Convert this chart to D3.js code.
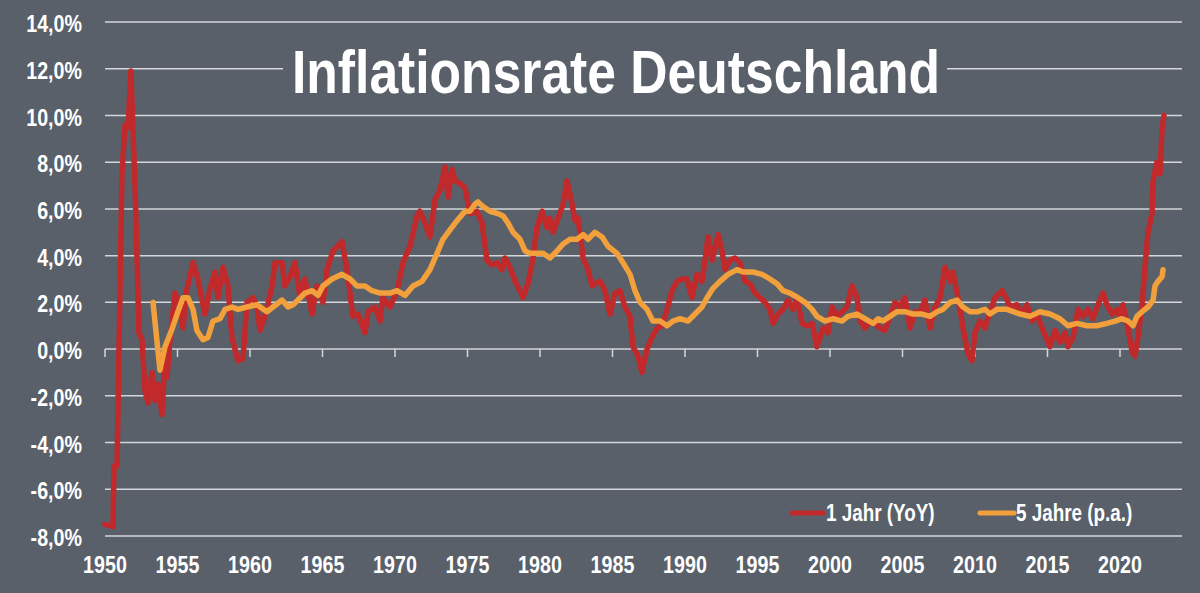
<!DOCTYPE html>
<html>
<head>
<meta charset="utf-8">
<script src="https://cdn.jsdelivr.net/npm/d3@7"></script>
<style>
  body { margin: 0; background: #59606a; }
  svg { display: block; }
  text { font-family: "Liberation Sans", Arial, sans-serif; font-weight: bold; fill: #ffffff; }
</style>
</head>
<body>
<svg id="chart" width="1200" height="593"></svg>
<script>
// ---- data ----
const titleText = "Inflationsrate Deutschland";
const seriesNames = ["1 Jahr (YoY)", "5 Jahre (p.a.)"];
const yTicks = [-8, -6, -4, -2, 0, 2, 4, 6, 8, 10, 12, 14];
const xTicks = [1950, 1955, 1960, 1965, 1970, 1975, 1980, 1985, 1990, 1995, 2000, 2005, 2010, 2015, 2020];

// [year, % yoy]
const yoySeries = [
  [1950.00,-7.5],[1950.55,-7.6],[1950.62,-5.0],[1950.83,-5.0],[1951.17,7.5],[1951.38,9.6],[1951.59,9.5],[1951.79,11.9],
  [1951.93,9.3],[1952.07,7.0],[1952.21,3.9],[1952.34,0.7],[1952.55,0.4],[1952.76,-1.8],[1952.97,-2.3],[1953.24,-1.0],
  [1953.45,-2.2],[1953.66,-1.5],[1953.93,-2.8],[1954.14,-0.4],[1954.28,-1.2],[1954.48,0.4],[1954.83,2.4],[1955.17,1.8],
  [1955.38,0.9],[1955.59,2.4],[1956.07,3.7],[1956.41,3.0],[1956.69,2.1],[1956.90,1.5],[1957.24,2.6],[1957.59,3.3],
  [1957.79,2.2],[1958.14,3.5],[1958.48,2.7],[1958.76,0.5],[1959.17,-0.5],[1959.52,-0.4],[1959.79,2.0],[1960.21,2.2],
  [1960.48,1.8],[1960.69,0.8],[1961.03,1.4],[1961.52,2.7],[1961.72,3.7],[1962.21,3.7],[1962.41,2.7],[1962.76,3.1],
  [1963.10,3.7],[1963.45,2.2],[1963.79,3.0],[1964.28,1.5],[1964.62,2.7],[1965.03,2.0],[1965.31,3.4],[1965.72,4.2],
  [1966.34,4.6],[1966.69,3.4],[1967.10,1.4],[1967.45,1.5],[1967.93,0.7],[1968.14,1.6],[1968.62,1.8],[1968.97,1.2],
  [1969.17,2.2],[1969.66,1.8],[1970.14,2.5],[1970.55,3.7],[1971.03,4.4],[1971.52,5.7],[1971.72,5.9],[1972.07,5.4],
  [1972.41,4.8],[1972.76,6.4],[1973.10,6.8],[1973.45,7.8],[1973.66,6.5],[1973.93,7.7],[1974.14,7.2],[1974.48,7.1],
  [1974.83,6.9],[1975.17,5.8],[1975.66,5.9],[1976.00,5.4],[1976.34,3.8],[1976.69,3.6],[1977.03,3.7],[1977.38,3.4],
  [1977.59,3.9],[1977.93,3.5],[1978.28,2.9],[1978.62,2.5],[1978.83,2.2],[1979.17,2.8],[1979.52,3.9],[1979.79,5.2],
  [1980.14,5.9],[1980.48,5.2],[1980.69,5.6],[1980.90,5.0],[1981.24,5.6],[1981.59,6.2],[1981.86,7.2],[1982.21,6.2],
  [1982.41,5.5],[1982.62,5.6],[1982.97,3.9],[1983.31,3.4],[1983.59,2.7],[1983.79,2.8],[1984.14,2.9],[1984.48,2.5],
  [1984.83,1.5],[1985.17,2.4],[1985.52,2.5],[1985.86,1.8],[1986.21,1.4],[1986.41,0.1],[1986.76,-0.3],[1987.03,-1.0],
  [1987.38,0.0],[1987.72,0.5],[1988.07,0.9],[1988.41,1.0],[1988.76,1.7],[1989.10,2.5],[1989.45,2.9],[1989.79,3.0],
  [1990.14,3.0],[1990.48,2.2],[1990.83,3.2],[1991.17,2.9],[1991.38,3.8],[1991.59,4.8],[1991.86,3.8],[1992.07,4.3],
  [1992.28,4.9],[1992.55,4.2],[1992.76,3.4],[1993.10,3.8],[1993.45,3.9],[1993.79,3.7],[1994.14,2.9],[1994.48,2.8],
  [1994.83,2.4],[1995.17,2.2],[1995.52,2.0],[1995.86,1.7],[1996.07,1.1],[1996.41,1.5],[1996.76,1.7],[1997.10,2.1],
  [1997.45,1.7],[1997.72,2.2],[1998.07,1.1],[1998.41,1.0],[1998.76,1.1],[1999.10,0.1],[1999.31,0.5],[1999.52,0.9],
  [1999.86,0.7],[2000.14,1.8],[2000.48,1.4],[2000.83,1.6],[2001.17,1.8],[2001.52,2.7],[2001.86,2.2],[2002.07,1.2],
  [2002.41,0.9],[2002.76,1.2],[2003.10,1.1],[2003.45,0.9],[2003.79,0.8],[2004.14,1.4],[2004.48,2.0],[2004.83,1.8],
  [2005.17,2.2],[2005.52,0.9],[2005.86,1.6],[2006.21,1.6],[2006.55,2.1],[2006.90,0.9],[2007.24,1.8],[2007.59,2.2],
  [2007.93,3.5],[2008.28,2.9],[2008.48,3.3],[2008.83,2.2],[2009.17,0.9],[2009.52,-0.2],[2009.79,-0.5],[2010.00,0.7],
  [2010.34,1.2],[2010.69,0.9],[2011.03,1.6],[2011.38,2.2],[2011.86,2.5],[2012.21,2.1],[2012.41,1.8],[2012.90,1.9],
  [2013.24,1.5],[2013.59,1.9],[2013.93,1.2],[2014.28,1.5],[2014.62,0.9],[2014.97,0.4],[2015.17,0.1],[2015.52,0.8],
  [2015.86,0.3],[2016.21,0.7],[2016.41,0.1],[2016.76,0.5],[2017.10,1.7],[2017.45,1.4],[2017.79,1.7],[2018.14,1.3],
  [2018.48,1.9],[2018.83,2.4],[2019.10,1.9],[2019.45,1.5],[2019.79,1.7],[2020.00,1.3],[2020.21,1.9],[2020.55,0.9],
  [2020.83,-0.1],[2021.03,-0.3],[2021.24,0.5],[2021.52,1.9],[2021.72,3.5],[2021.93,5.0],[2022.21,5.8],[2022.28,7.2],
  [2022.55,8.0],[2022.76,7.5],[2022.90,9.4],[2023.03,10.0]
];

// [year, % p.a. over 5 years]
const paSeries = [
  [1953.31,2.0],[1953.79,-0.9],[1954.14,0.1],[1954.62,0.85],[1955.03,1.6],[1955.38,2.2],[1955.72,2.2],[1956.07,1.7],
  [1956.34,0.8],[1956.76,0.4],[1957.10,0.5],[1957.45,1.2],[1957.93,1.3],[1958.28,1.7],[1958.76,1.8],[1959.17,1.7],
  [1959.79,1.8],[1960.48,1.9],[1961.17,1.6],[1961.59,1.8],[1962.21,2.1],[1962.62,1.8],[1962.97,1.9],[1963.31,2.1],
  [1963.79,2.4],[1964.28,2.5],[1964.69,2.3],[1965.03,2.7],[1965.66,3.0],[1966.34,3.2],[1966.90,3.0],[1967.38,2.7],
  [1967.93,2.7],[1968.41,2.5],[1968.97,2.4],[1969.66,2.4],[1970.14,2.5],[1970.69,2.3],[1971.24,2.7],[1971.86,2.9],
  [1972.41,3.4],[1972.90,4.1],[1973.31,4.7],[1973.79,5.1],[1974.28,5.5],[1974.83,5.9],[1975.17,5.9],[1975.52,6.2],
  [1975.72,6.3],[1976.07,6.1],[1976.55,5.9],[1977.10,5.8],[1977.45,5.7],[1977.79,5.4],[1978.14,5.0],[1978.62,4.7],
  [1978.97,4.2],[1979.31,4.1],[1979.79,4.1],[1980.21,4.1],[1980.69,3.9],[1981.17,4.2],[1981.59,4.5],[1982.07,4.7],
  [1982.55,4.7],[1982.97,4.9],[1983.31,4.7],[1983.79,5.0],[1984.28,4.8],[1984.69,4.4],[1985.31,4.1],[1985.72,3.7],
  [1986.21,3.2],[1986.55,2.5],[1986.90,2.0],[1987.38,1.7],[1987.79,1.2],[1988.28,1.2],[1988.76,1.0],[1989.17,1.2],
  [1989.66,1.3],[1990.21,1.2],[1990.69,1.5],[1991.17,1.8],[1991.52,2.2],[1991.93,2.6],[1992.41,2.9],[1992.97,3.2],
  [1993.59,3.4],[1994.00,3.3],[1994.69,3.3],[1995.31,3.2],[1995.86,3.0],[1996.34,2.8],[1996.76,2.5],[1997.24,2.4],
  [1997.79,2.2],[1998.28,2.0],[1998.76,1.7],[1999.10,1.4],[1999.66,1.2],[2000.21,1.3],[2000.83,1.2],[2001.24,1.4],
  [2001.86,1.5],[2002.41,1.3],[2002.97,1.1],[2003.31,1.3],[2003.66,1.2],[2004.14,1.4],[2004.62,1.6],[2005.17,1.6],
  [2005.72,1.5],[2006.34,1.5],[2006.90,1.4],[2007.38,1.6],[2007.79,1.7],[2008.28,2.0],[2008.76,2.1],[2009.17,1.8],
  [2009.66,1.6],[2010.21,1.6],[2010.69,1.7],[2011.03,1.5],[2011.52,1.7],[2012.21,1.7],[2013.10,1.5],[2013.79,1.4],
  [2014.48,1.6],[2015.17,1.5],[2015.86,1.3],[2016.41,1.0],[2017.03,1.1],[2017.72,1.0],[2018.41,1.0],[2019.10,1.1],
  [2019.66,1.2],[2020.14,1.3],[2020.55,1.2],[2020.90,1.0],[2021.17,1.4],[2021.52,1.6],[2021.93,1.8],[2022.28,2.1],
  [2022.41,2.7],[2022.62,2.9],[2022.90,3.1],[2022.97,3.4]
];

// ---- chart ----
const svg = d3.select("#chart");
const W = 1200, H = 593;
const bg = "#59606a", grid = "#d3d6da";
const redCol = "#c1292b", orangeCol = "#f1a03b";
const narrow = 0.82; // condensed look

var x = d3.scaleLinear().domain([1950, 2020]).range([105, 1120]);
var y = d3.scaleLinear().domain([-8, 14]).range([536, 22]);
const gridRight = 1182;

// german number format, plain hyphen as minus sign
const de = d3.formatLocale({ decimal: ",", thousands: ".", grouping: [3], currency: ["", " €"], minus: "-" });
const pct = de.format(".1f");

const place = (px, py) => "translate(" + px + "," + py + ") scale(" + narrow + ",1)";

svg.append("rect").attr("width", W).attr("height", H).attr("fill", bg);

// horizontal gridlines
svg.append("g").selectAll("line").data(yTicks).enter().append("line")
  .attr("x1", x(1950)).attr("x2", gridRight)
  .attr("y1", d => y(d)).attr("y2", d => y(d))
  .attr("stroke", grid).attr("stroke-width", 1.5);

// tick marks on zero line
svg.append("g").selectAll("line").data(xTicks).enter().append("line")
  .attr("x1", d => x(d)).attr("x2", d => x(d))
  .attr("y1", y(0)).attr("y2", y(0) + 8)
  .attr("stroke", grid).attr("stroke-width", 1.5);

// y labels
svg.append("g").selectAll("text").data(yTicks).enter().append("text")
  .attr("transform", d => place(82, y(d)))
  .attr("dy", "0.42em")
  .attr("text-anchor", "end").attr("font-size", 24)
  .text(d => pct(d) + "%");

// x labels
svg.append("g").selectAll("text").data(xTicks).enter().append("text")
  .attr("transform", d => place(x(d), 573))
  .attr("text-anchor", "middle").attr("font-size", 24)
  .text(d => d);

// lines
var line = d3.line()
  .x(function (d) { return x(d[0]); })
  .y(function (d) { return y(d[1]); });

svg.append("path").datum(yoySeries)
  .attr("d", line).attr("fill", "none")
  .attr("stroke", redCol).attr("stroke-width", 5.5)
  .attr("stroke-linejoin", "round").attr("stroke-linecap", "round");

svg.append("path").datum(paSeries)
  .attr("d", line).attr("fill", "none")
  .attr("stroke", orangeCol).attr("stroke-width", 5.5)
  .attr("stroke-linejoin", "round").attr("stroke-linecap", "round");

// title with background box
svg.append("rect").attr("x", 283).attr("y", 44).attr("width", 664).attr("height", 62).attr("fill", bg);
svg.append("text").attr("x", 292).attr("y", 93)
  .attr("font-size", 62)
  .attr("textLength", 648).attr("lengthAdjust", "spacingAndGlyphs")
  .text(titleText);

// legend
const legend = [
  { name: seriesNames[0], col: redCol, x0: 792, x1: 823, tx: 826 },
  { name: seriesNames[1], col: orangeCol, x0: 980, x1: 1014, tx: 1016 }
];
const lg = svg.append("g");
legend.forEach(function (l) {
  lg.append("line").attr("x1", l.x0).attr("x2", l.x1).attr("y1", 513).attr("y2", 513)
    .attr("stroke", l.col).attr("stroke-width", 5).attr("stroke-linecap", "round");
  lg.append("text").attr("transform", place(l.tx, 521)).attr("font-size", 23).text(l.name);
});
</script>
</body>
</html>
